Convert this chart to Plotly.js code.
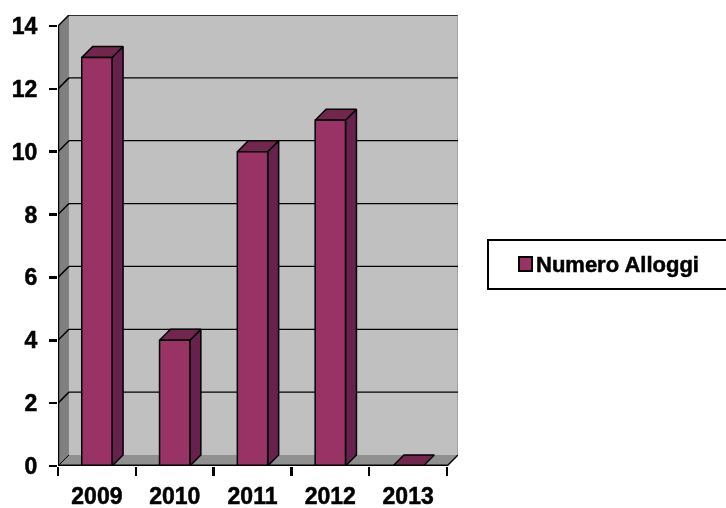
<!DOCTYPE html>
<html>
<head>
<meta charset="utf-8">
<script src="https://cdn.plot.ly/plotly-3.0.1.min.js"></script>
<style>
html,body{margin:0;padding:0;background:#fff;overflow:hidden}
#chart{width:726px;height:508px;filter:blur(0.4px)}
#chart text{stroke:#000;stroke-width:0.5px}
</style>
</head>
<body>
<div id="chart"></div>
<script>
const years = ['2009', '2010', '2011', '2012', '2013'];
const values = [13, 4, 10, 11, 0];
const seriesName = 'Numero Alloggi';
const yTicks = [0, 2, 4, 6, 8, 10, 12, 14];
const boundaries = [-0.5, 0.5, 1.5, 2.5, 3.5, 4.5];

const FRONT = '#993366', SIDE = '#66224d', TOP = '#73264d';
const WALL = '#c0c0c0', SIDEWALL = '#808080', FLOOR = '#909090';
const dx = 0.141, dy = 0.35, halfBar = 0.195;
const xEnd = 4.5, yEnd = 14;
const W = 726, H = 508;
const M = {l: 58, r: 268, t: 15, b: 42};

function face(xs, ys, color) {
  return {type: 'scatter', mode: 'lines', x: xs, y: ys, fill: 'toself', fillcolor: color,
    line: {color: '#000', width: 1.5}, showlegend: false, hoverinfo: 'skip', xaxis: 'x', yaxis: 'y'};
}
const traces = [];
years.forEach((_, i) => {
  const v = values[i], l = i - halfBar, r = i + halfBar;
  if (v > 0) traces.push(face([r, r + dx, r + dx, r, r], [0, dy, v + dy, v, 0], SIDE));
  traces.push(face([l, r, r + dx, l + dx, l], [v, v, v + dy, v + dy, v], TOP));
});
traces.push({type: 'bar', x: years, y: values, name: seriesName, xaxis: 'x2', yaxis: 'y', showlegend: false,
  width: 2 * halfBar, marker: {color: FRONT, line: {color: '#000', width: 1.5}}, hoverinfo: 'skip'});

function poly(xs, ys, color) {
  const path = xs.map((x, i) => (i ? 'L' : 'M') + x + ',' + ys[i]).join(' ') + ' Z';
  return {type: 'path', path, xref: 'x', yref: 'y', fillcolor: color, line: {width: 0}, layer: 'below'};
}
function seg(x0, y0, x1, y1, w, layer) {
  return {type: 'line', x0, y0, x1, y1, xref: 'x', yref: 'y', line: {color: '#000', width: w}, layer: layer || 'below'};
}
// page pixels to paper fractions, for the legend box
const px = v => (v - M.l) / (W - M.l - M.r);
const py = v => 1 - (v - M.t) / (H - M.t - M.b);
function paperRect(x0, y0, x1, y1, fill, w) {
  return {type: 'rect', xref: 'paper', yref: 'paper', x0: px(x0), x1: px(x1), y0: py(y0), y1: py(y1),
    fillcolor: fill, line: {color: '#000', width: w}, layer: 'above'};
}
const x0 = boundaries[0];
const shapes = [
  poly([x0 + dx, xEnd + dx, xEnd + dx, x0 + dx], [dy, dy, yEnd + dy, yEnd + dy], WALL),
  poly([x0, x0 + dx, x0 + dx, x0], [0, dy, yEnd + dy, yEnd], SIDEWALL),
  poly([x0, xEnd, xEnd + dx, x0 + dx], [0, 0, dy, dy], FLOOR),
  seg(x0 + dx, yEnd + dy, xEnd + dx, yEnd + dy, 1.5),
  seg(x0, yEnd, x0 + dx, yEnd + dy, 1.5),
  seg(x0, 0, x0 + dx, dy, 1),
  seg(xEnd, 0, xEnd + dx, dy, 1.5),
  {type: 'line', x0: xEnd + dx, x1: xEnd + dx, y0: dy, y1: yEnd + dy, xref: 'x', yref: 'y', line: {color: '#808080', width: 1}, layer: 'below'}
];
yTicks.slice(1, -1).forEach(t => {
  shapes.push(seg(x0, t, x0 + dx, t + dy, 1.5));
  shapes.push(seg(x0 + dx, t + dy, xEnd + dx, t + dy, 1.2));
});
shapes.push(seg(x0, 0, x0, yEnd, 2.5, 'above'));
shapes.push(seg(x0, 0, xEnd, 0, 3, 'above'));
// legend box and swatch
shapes.push(paperRect(488, 240, 732, 289, '#fff', 2));
shapes.push(paperRect(519, 257, 532, 271, FRONT, 2));

const fontFamily = '"Liberation Sans", Arial, sans-serif';
const tickFont = {family: fontFamily, size: 23, color: '#000', weight: 700};
const xRange = [x0, xEnd + dx];
const layout = {
  width: W, height: H,
  margin: {l: M.l, r: M.r, t: M.t, b: M.b, pad: 0, autoexpand: false},
  paper_bgcolor: '#fff', plot_bgcolor: '#fff',
  barmode: 'overlay',
  shapes,
  showlegend: false,
  annotations: [{xref: 'paper', yref: 'paper', x: px(535), y: py(264), xanchor: 'left', yanchor: 'middle',
    text: seriesName, showarrow: false, borderpad: 0, font: {family: fontFamily, size: 22, color: '#000', weight: 700}}],
  xaxis: {type: 'linear', range: xRange, tickmode: 'array', tickvals: boundaries, ticktext: boundaries.map(() => ''),
    ticks: 'outside', ticklen: 9, tickwidth: 2.5, tickcolor: '#000', showgrid: false, zeroline: false, showline: false, fixedrange: true},
  xaxis2: {type: 'category', overlaying: 'x', anchor: 'y', side: 'bottom', range: xRange, categoryorder: 'array', categoryarray: years,
    tickmode: 'array', tickvals: years, ticktext: years, ticks: '', ticklabelstandoff: 14,
    tickfont: tickFont, showgrid: false, zeroline: false, showline: false, fixedrange: true},
  yaxis: {range: [0, yEnd + dy], tickmode: 'array', tickvals: yTicks, ticktext: yTicks.map(String),
    ticks: 'outside', ticklen: 8, tickwidth: 2.5, tickcolor: '#000', ticklabelstandoff: 7,
    tickfont: tickFont, showgrid: false, zeroline: false, showline: false, fixedrange: true}
};
Plotly.newPlot('chart', traces, layout, {displayModeBar: false, staticPlot: true});
</script>
</body>
</html>
